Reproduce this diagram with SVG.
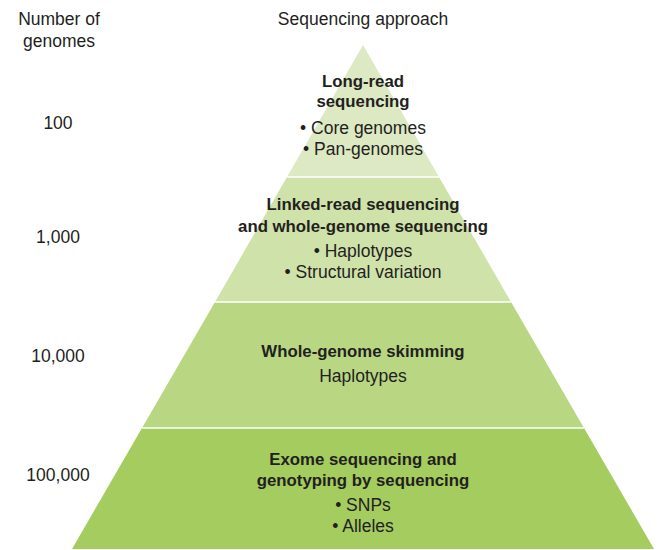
<svg xmlns="http://www.w3.org/2000/svg" width="657" height="550" viewBox="0 0 657 550">
<style>
text{font-family:"Liberation Sans",Arial,sans-serif;fill:#231f20;text-anchor:middle;font-size:17.5px}
.b{font-weight:bold;font-size:16.8px}
.sep{stroke:#ffffff;stroke-width:1.5}
</style>
<rect width="657" height="550" fill="#ffffff"/>
<text x="59" y="25">Number of</text>
<text x="59" y="47">genomes</text>
<text x="363" y="25">Sequencing approach</text>
<g id="tier1">
<polygon points="363,45 439,177 287,177" fill="#dde9c3"/>
<text class="b" x="363" y="87">Long-read</text>
<text class="b" x="363" y="107">sequencing</text>
<text x="363" y="134">• Core genomes</text>
<text x="363" y="155">• Pan-genomes</text>
<text x="58" y="129">100</text>
</g>
<g id="tier2">
<polygon points="287,177 439,177 511,302 215,302" fill="#cfe2a9"/>
<text class="b" x="363" y="210">Linked-read sequencing</text>
<text class="b" x="363" y="232">and whole-genome sequencing</text>
<text x="363" y="257">• Haplotypes</text>
<text x="363" y="278">• Structural variation</text>
<text x="58" y="243">1,000</text>
</g>
<g id="tier3">
<polygon points="215,302 511,302 584,428 142,428" fill="#b9d783"/>
<text class="b" x="363" y="357">Whole-genome skimming</text>
<text x="363" y="382">Haplotypes</text>
<text x="58" y="362">10,000</text>
</g>
<g id="tier4">
<polygon points="142,428 584,428 654,549 72,549" fill="#a4cc5f"/>
<text class="b" x="363" y="465">Exome sequencing and</text>
<text class="b" x="363" y="486">genotyping by sequencing</text>
<text x="363" y="511">• SNPs</text>
<text x="363" y="532">• Alleles</text>
<text x="58" y="481">100,000</text>
</g>
<g id="connectors">
<line class="sep" x1="287" y1="177" x2="439" y2="177"/>
<line class="sep" x1="215" y1="302" x2="511" y2="302"/>
<line class="sep" x1="142" y1="428" x2="584" y2="428"/>
</g>
</svg>
